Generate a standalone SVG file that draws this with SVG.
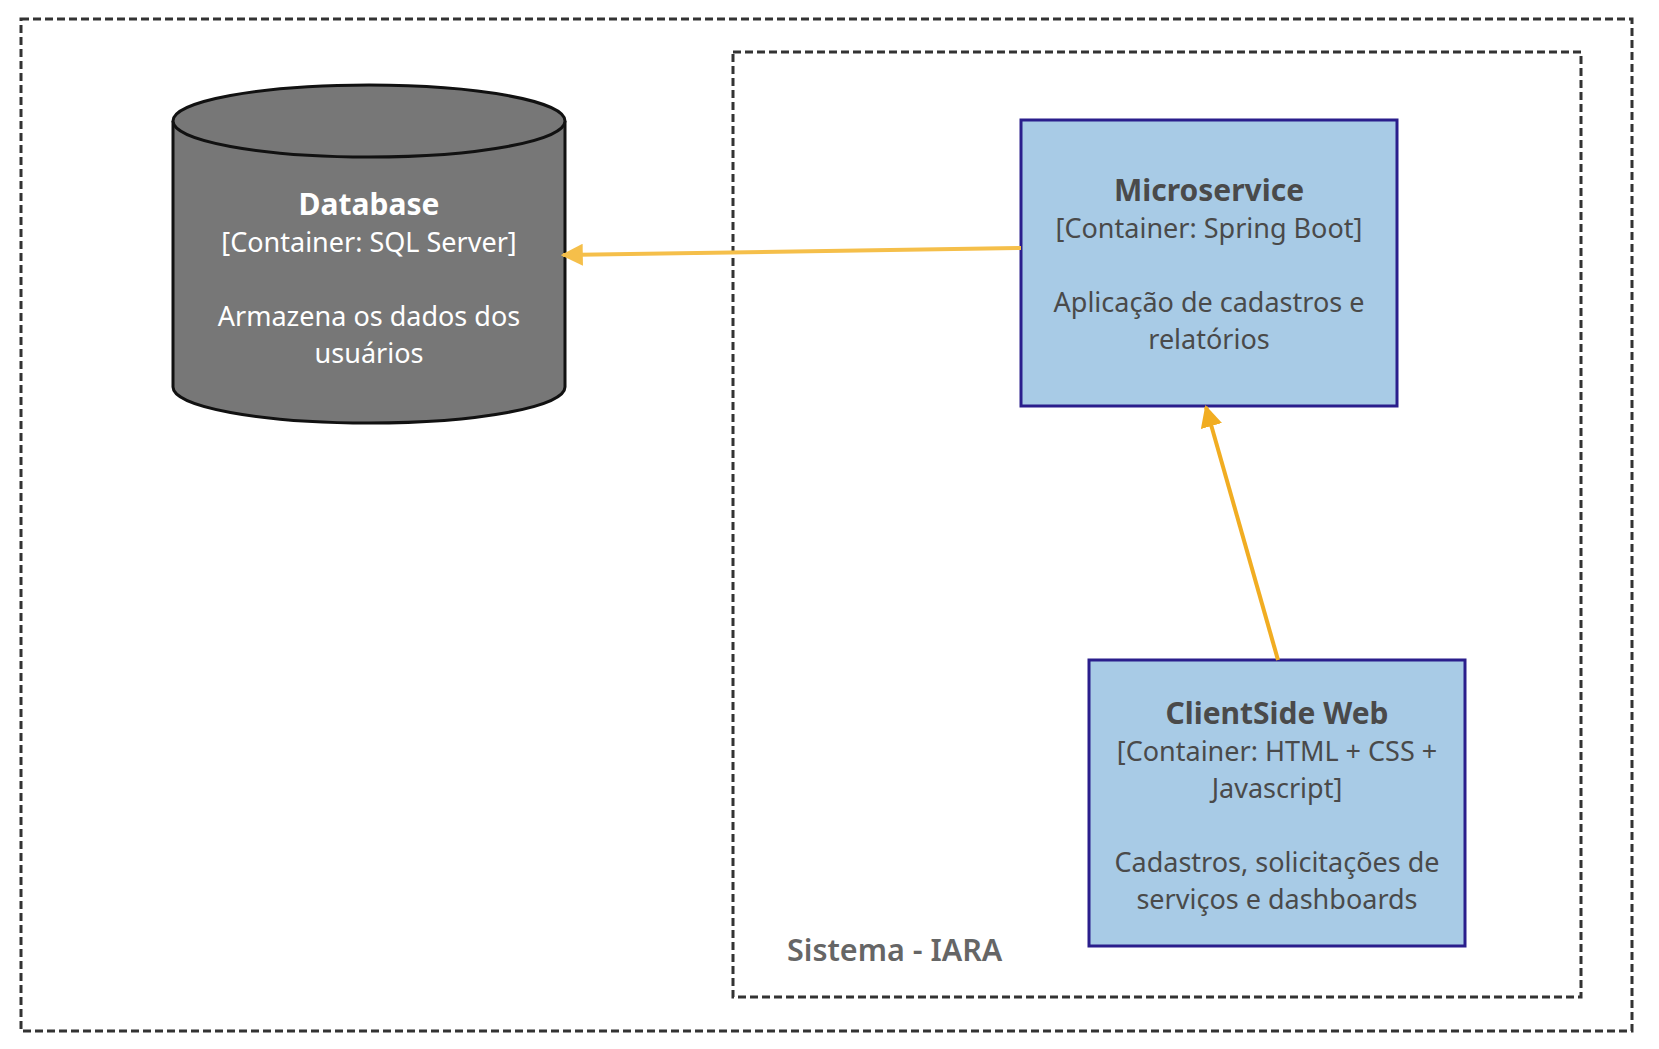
<svg xmlns="http://www.w3.org/2000/svg" width="1659" height="1049" viewBox="0 0 1659 1049">
<defs>
<style>
.frame{fill:none;stroke:#333;stroke-width:3;stroke-dasharray:8 4}
.box{fill:#A8CBE6;stroke:#2A1E8C;stroke-width:3}
.db{fill:#777;stroke:#111;stroke-width:3}
.t{font-family:"Noto Sans","Open Sans",sans-serif;text-anchor:middle}
.title{font-size:30px;font-weight:bold}
.sub{font-size:27px}
.dark{fill:#4a4a4a}
.light{fill:#fff}
.conn{fill:none;stroke-width:4}
</style>
<marker id="ah1" viewBox="0 0 10 10" refX="9" refY="5" markerWidth="5.5" markerHeight="5.5" orient="auto" markerUnits="strokeWidth"><path d="M0,0 L10,5 L0,10 Z" fill="#F5BF4A"/></marker>
<marker id="ah2" viewBox="0 0 10 10" refX="9" refY="5" markerWidth="5.5" markerHeight="5.5" orient="auto" markerUnits="strokeWidth"><path d="M0,0 L10,5 L0,10 Z" fill="#F1AD22"/></marker>
</defs>
<rect width="1659" height="1049" fill="#fff"/>
<g id="outer-boundary"><rect class="frame" x="21" y="19" width="1611" height="1012"/></g>
<g id="sistema-iara"><rect class="frame" x="733" y="52" width="848" height="945"/>
<text x="787" y="961" font-family="Noto Sans, Open Sans, sans-serif" font-size="30.5" font-weight="600" fill="#666">Sistema - IARA</text></g>
<g id="database">
<path class="db" d="M173,121 L173,387 A196,36 0 0 0 565,387 L565,121"/>
<ellipse class="db" cx="369" cy="121" rx="196" ry="36"/>
<text class="t title light" x="369" y="215">Database</text>
<text class="t sub light" x="369" y="252">[Container: SQL Server]</text>
<text class="t sub light" x="369" y="326">Armazena os dados dos</text>
<text class="t sub light" x="369" y="363">usuários</text>
</g>
<g id="microservice">
<rect class="box" x="1021" y="120" width="376" height="286"/>
<text class="t title dark" x="1209" y="201">Microservice</text>
<text class="t sub dark" x="1209" y="238">[Container: Spring Boot]</text>
<text class="t sub dark" x="1209" y="312">Aplicação de cadastros e</text>
<text class="t sub dark" x="1209" y="349">relatórios</text>
</g>
<g id="clientside-web">
<rect class="box" x="1089" y="660" width="376" height="286"/>
<text class="t title dark" x="1277" y="724">ClientSide Web</text>
<text class="t sub dark" x="1277" y="761">[Container: HTML + CSS +</text>
<text class="t sub dark" x="1277" y="798">Javascript]</text>
<text class="t sub dark" x="1277" y="872">Cadastros, solicitações de</text>
<text class="t sub dark" x="1277" y="909">serviços e dashboards</text>
</g>
<g id="connectors">
<line class="conn" stroke="#F5BF4A" x1="1021" y1="248" x2="563" y2="255" marker-end="url(#ah1)"/>
<line class="conn" stroke="#F1AD22" x1="1278" y1="660" x2="1206" y2="407" marker-end="url(#ah2)"/>
</g>
</svg>
